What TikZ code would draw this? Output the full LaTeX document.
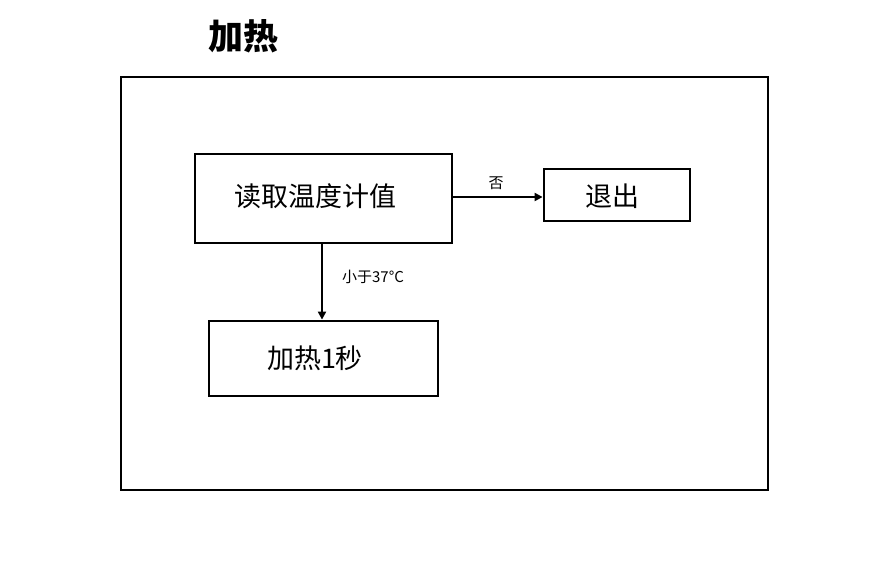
\documentclass[tikz,border=0pt]{standalone}
\usepackage{fontspec}
\setmainfont{Noto Sans CJK SC}
\usetikzlibrary{arrows.meta}
\tikzset{
  box/.style={draw=black, line width=2.8pt, inner sep=0pt},
  boxtext/.style={font=\fontsize{27}{30}\selectfont, inner sep=0pt},
  conn/.style={line width=2.8pt, -{Triangle[length=8pt,width=8pt]}},
  lbl/.style={font=\fontsize{15}{18}\selectfont, inner sep=0pt},
}
\begin{document}
\begin{tikzpicture}[x=1pt,y=-1pt]
\useasboundingbox (0,0) rectangle (874,567);
\node[font=\fontsize{35}{40}\selectfont\bfseries] (title) at (243,36) {加热};
\draw[line width=2.8pt] (121,77) rectangle (768,490);
\node[box, minimum width=257pt, minimum height=89pt] (read) at (323.5,198.5) {};
\node[boxtext] (readt) at (315,196) {读取温度计值};
\node[box, minimum width=146pt, minimum height=52pt] (exit) at (617,195) {};
\node[boxtext] (exitt) at (612,196) {退出};
\node[box, minimum width=229pt, minimum height=75pt] (heat) at (323.5,358.5) {};
\node[boxtext] (heatt) at (315,358) {加热1秒};
\coordinate (rr) at (read.east |- 0,197);
\coordinate (er) at (exit.west |- 0,197);
\draw[conn] (rr) -- (er);
\node[lbl] (no) at (496,183) {否};
\draw[conn] (read.south -| 322,0) -- (heat.north -| 322,0);
\node[lbl] (lt) at (373,277) {小于37°C};
\end{tikzpicture}
\end{document}
